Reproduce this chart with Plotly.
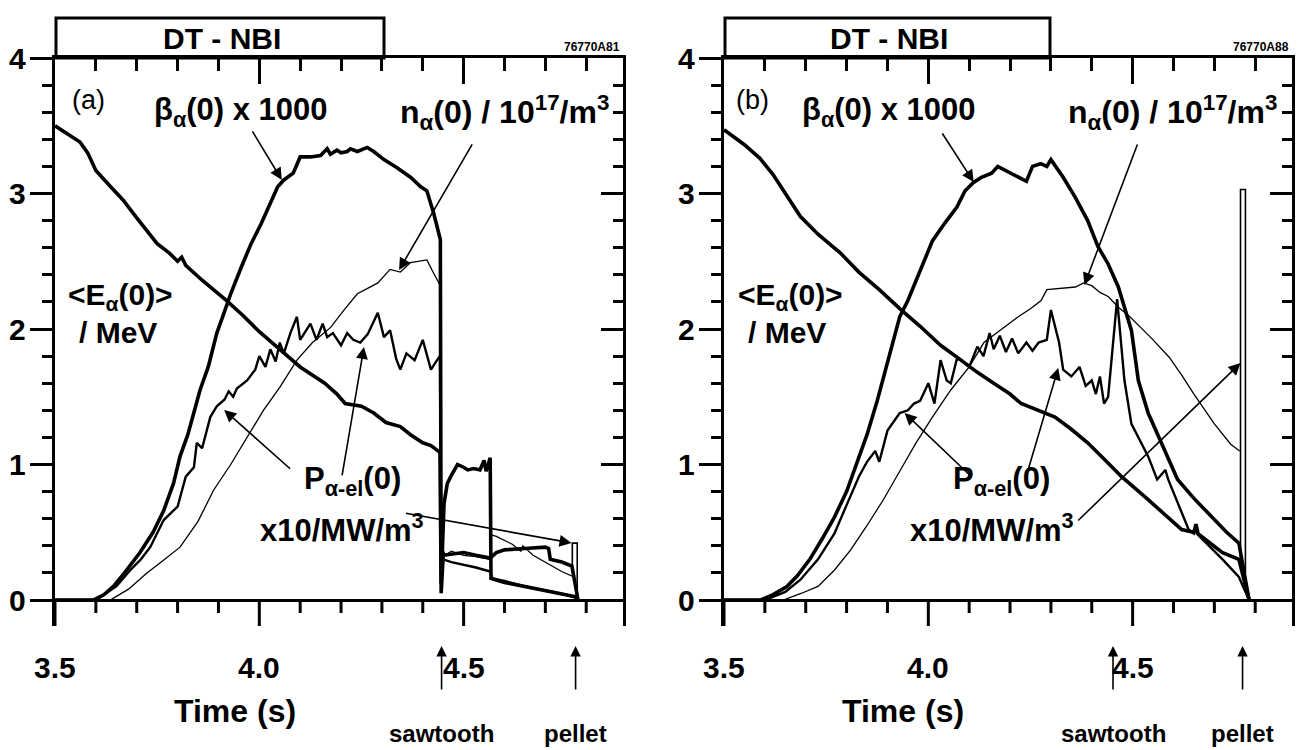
import plotly.graph_objects as go

# ---------------- data (time in s, values in plotted units) ----------------
# Panel (a)
t_beta_a = [3.50, 3.55, 3.594, 3.62, 3.643, 3.67, 3.708, 3.74, 3.766, 3.79, 3.806, 3.825, 3.84, 3.855,
            3.875, 3.896, 3.915, 3.93, 3.955, 3.98, 4.005, 4.027, 4.045, 4.06, 4.083, 4.10, 4.125, 4.15,
            4.166, 4.174, 4.19, 4.20, 4.215, 4.223, 4.24, 4.264, 4.28, 4.305, 4.337, 4.37, 4.395, 4.41,
            4.427, 4.443, 4.445, 4.45, 4.47, 4.50, 4.53, 4.565, 4.58, 4.60, 4.65, 4.70, 4.708, 4.712,
            4.74, 4.765, 4.78]
v_beta_a = [0.0, 0.0, 0.0, 0.04, 0.10, 0.20, 0.35, 0.50, 0.66, 0.86, 1.06, 1.22, 1.38, 1.55,
            1.72, 1.97, 2.13, 2.26, 2.45, 2.63, 2.78, 2.93, 3.05, 3.10, 3.15, 3.27, 3.27, 3.28,
            3.33, 3.29, 3.32, 3.30, 3.31, 3.33, 3.31, 3.34, 3.31, 3.25, 3.19, 3.12, 3.05, 3.02,
            2.85, 2.66, 0.05, 0.33, 0.34, 0.35, 0.33, 0.31, 0.35, 0.37, 0.38, 0.39, 0.38, 0.30,
            0.28, 0.25, 0.0]

t_e_a = [3.50, 3.53, 3.561, 3.58, 3.60, 3.63, 3.667, 3.70, 3.75, 3.78, 3.80, 3.81, 3.82, 3.86, 3.92,
         3.96, 4.00, 4.05, 4.10, 4.16, 4.19, 4.21, 4.23, 4.25, 4.28, 4.31, 4.345, 4.37, 4.40, 4.42,
         4.442, 4.445, 4.452, 4.46, 4.47, 4.485, 4.50, 4.51, 4.525, 4.54, 4.55, 4.555, 4.565, 4.567,
         4.60, 4.65, 4.70, 4.75, 4.78]
v_e_a = [3.50, 3.44, 3.38, 3.30, 3.17, 3.07, 2.95, 2.82, 2.63, 2.56, 2.50, 2.53, 2.47, 2.36, 2.21,
         2.10, 1.98, 1.85, 1.72, 1.60, 1.52, 1.45, 1.44, 1.43, 1.38, 1.31, 1.28, 1.22, 1.16, 1.14,
         1.09, 0.12, 0.71, 0.86, 0.92, 1.00, 0.98, 0.96, 0.97, 0.96, 1.03, 0.95, 1.05, 0.16,
         0.13, 0.10, 0.07, 0.04, 0.02]

t_n_a = [3.50, 3.635, 3.68, 3.725, 3.76, 3.806, 3.85, 3.888, 3.93, 3.97, 4.01, 4.05, 4.092, 4.13,
         4.174, 4.21, 4.24, 4.265, 4.29, 4.32, 4.345, 4.37, 4.39, 4.41, 4.427, 4.443, 4.445, 4.45,
         4.455, 4.47, 4.50, 4.53, 4.565, 4.568, 4.58, 4.60, 4.62, 4.64, 4.645, 4.67, 4.70, 4.74,
         4.77, 4.78]
v_n_a = [0.0, 0.0, 0.08, 0.20, 0.28, 0.39, 0.58, 0.81, 1.00, 1.20, 1.40, 1.57, 1.77, 1.90,
         2.01, 2.15, 2.26, 2.30, 2.34, 2.44, 2.42, 2.49, 2.50, 2.51, 2.41, 2.32, 0.30, 0.37,
         0.33, 0.36, 0.33, 0.32, 0.30, 0.48, 0.47, 0.44, 0.41, 0.36, 0.40, 0.33, 0.28, 0.21,
         0.17, 0.0]

t_p_a = [3.50, 3.60, 3.65, 3.684, 3.71, 3.733, 3.766, 3.80, 3.82, 3.84, 3.847, 3.86, 3.88, 3.896,
         3.915, 3.925, 3.936, 3.945, 3.97, 3.99, 4.00, 4.015, 4.027, 4.04, 4.05, 4.06, 4.076, 4.092,
         4.10, 4.125, 4.14, 4.155, 4.166, 4.18, 4.20, 4.215, 4.23, 4.247, 4.265, 4.29, 4.305, 4.32,
         4.335, 4.345, 4.36, 4.38, 4.40, 4.42, 4.435, 4.442, 4.445, 4.45, 4.47, 4.50, 4.53, 4.565,
         4.57, 4.60, 4.65, 4.70, 4.75, 4.78]
v_p_a = [0.0, 0.0, 0.10, 0.22, 0.30, 0.39, 0.59, 0.69, 0.91, 0.98, 1.16, 1.12, 1.35, 1.43,
         1.48, 1.54, 1.50, 1.56, 1.62, 1.70, 1.80, 1.72, 1.85, 1.76, 1.90, 1.82, 1.97, 2.09,
         1.92, 2.04, 1.92, 2.04, 1.94, 1.97, 1.88, 1.97, 1.92, 1.90, 1.96, 2.12, 1.94, 1.99,
         1.78, 1.70, 1.82, 1.77, 1.92, 1.70, 1.77, 1.80, 0.10, 0.30, 0.28, 0.26, 0.24, 0.21,
         0.16, 0.14, 0.10, 0.07, 0.04, 0.01]

t_spike_a = [4.766, 4.766, 4.778, 4.778]
v_spike_a = [0.25, 0.42, 0.42, 0.0]

# Panel (b)
t_beta_b = [3.50, 3.59, 3.62, 3.654, 3.68, 3.71, 3.74, 3.77, 3.80, 3.826, 3.85, 3.875, 3.90, 3.93,
            3.95, 3.98, 4.01, 4.04, 4.07, 4.09, 4.11, 4.13, 4.155, 4.17, 4.19, 4.21, 4.24, 4.255,
            4.275, 4.29, 4.30, 4.33, 4.36, 4.39, 4.415, 4.44, 4.465, 4.497, 4.514, 4.538, 4.571,
            4.61, 4.65, 4.686, 4.73, 4.76, 4.785]
v_beta_b = [0.0, 0.0, 0.04, 0.10, 0.18, 0.30, 0.45, 0.61, 0.80, 1.01, 1.22, 1.47, 1.75, 2.09,
            2.21, 2.43, 2.65, 2.78, 2.90, 3.02, 3.08, 3.12, 3.15, 3.20, 3.17, 3.14, 3.09, 3.20,
            3.22, 3.20, 3.25, 3.12, 2.97, 2.80, 2.61, 2.48, 2.31, 1.99, 1.62, 1.38, 1.16,
            0.89, 0.75, 0.64, 0.50, 0.42, 0.0]

t_e_b = [3.50, 3.55, 3.588, 3.62, 3.687, 3.73, 3.785, 3.83, 3.88, 3.93, 3.98, 4.03, 4.08, 4.12,
         4.16, 4.20, 4.227, 4.27, 4.31, 4.35, 4.39, 4.43, 4.473, 4.538, 4.58, 4.62, 4.65, 4.655,
         4.66, 4.72, 4.76, 4.785]
v_e_b = [3.47, 3.36, 3.26, 3.14, 2.83, 2.70, 2.56, 2.42, 2.29, 2.15, 2.02, 1.88, 1.77, 1.68,
         1.60, 1.52, 1.45, 1.40, 1.35, 1.26, 1.16, 1.04, 0.91, 0.74, 0.63, 0.52, 0.50, 0.56,
         0.49, 0.35, 0.30, 0.0]

t_n_b = [3.50, 3.645, 3.69, 3.73, 3.77, 3.81, 3.85, 3.89, 3.93, 3.97, 4.01, 4.055, 4.10, 4.136,
         4.18, 4.22, 4.25, 4.276, 4.29, 4.32, 4.36, 4.38, 4.40, 4.42, 4.44, 4.465, 4.49, 4.52,
         4.55, 4.59, 4.62, 4.65, 4.70, 4.74, 4.762]
v_n_b = [0.0, 0.0, 0.05, 0.10, 0.22, 0.37, 0.55, 0.74, 0.95, 1.16, 1.35, 1.55, 1.72, 1.90,
         2.00, 2.09, 2.15, 2.21, 2.29, 2.30, 2.31, 2.34, 2.32, 2.27, 2.24, 2.16, 2.10, 2.01,
         1.92, 1.79, 1.66, 1.52, 1.30, 1.15, 1.10]

t_p_b = [3.50, 3.60, 3.65, 3.687, 3.73, 3.77, 3.80, 3.83, 3.85, 3.87, 3.88, 3.90, 3.93, 3.95,
         3.965, 3.98, 4.00, 4.015, 4.03, 4.045, 4.055, 4.07, 4.08, 4.10, 4.12, 4.135, 4.15, 4.16,
         4.175, 4.19, 4.205, 4.22, 4.24, 4.255, 4.27, 4.29, 4.30, 4.32, 4.33, 4.35, 4.37, 4.385,
         4.40, 4.41, 4.42, 4.43, 4.44, 4.462, 4.48, 4.497, 4.538, 4.56, 4.58, 4.587, 4.637,
         4.65, 4.655, 4.66, 4.72, 4.76, 4.785]
v_p_b = [0.0, 0.0, 0.06, 0.15, 0.30, 0.49, 0.70, 0.91, 1.02, 1.10, 1.02, 1.25, 1.38, 1.40,
         1.45, 1.47, 1.60, 1.45, 1.77, 1.62, 1.60, 1.78, 1.77, 1.72, 1.87, 1.80, 1.97, 1.85,
         1.95, 1.83, 1.93, 1.82, 1.90, 1.84, 1.90, 1.92, 2.14, 1.90, 1.70, 1.65, 1.72, 1.58,
         1.62, 1.52, 1.65, 1.45, 1.50, 2.22, 1.62, 1.30, 1.06, 0.89, 0.96, 0.89, 0.52,
         0.49, 0.53, 0.48, 0.30, 0.17, 0.0]

t_spike_b = [4.764, 4.764, 4.776, 4.776]
v_spike_b = [0.30, 3.03, 3.03, 0.20]

x_ticks = [3.5, 4.0, 4.5]
x_ticklabels = ["3.5", "4.0", "4.5"]
y_ticks = [0, 1, 2, 3, 4]
y_ticklabels = ["0", "1", "2", "3", "4"]
x_range = [3.5, 4.89]
y_top = 4
x_minor_step, y_minor_step = 0.1, 0.2

# ---------------- layout geometry (screen pixels; page body adds an 8 px offset) ----------------
OFF = 8
SW, SH = 1308, 750
W, H = SW - OFF, SH - OFF
A_L, A_R = 55, 623          # screen x of panel (a) frame
B_L, B_R = 724, 1292        # screen x of panel (b) frame
TOP, BOT = 58, 600          # screen y of frame top / time axis (value 0)
TICK_MAJ, TICK_MIN = 26, 13  # px length of the outside ticks under the time axis
UNIT_PX = (BOT - TOP) / y_top
y_range = [-TICK_MAJ / UNIT_PX, y_top]   # plot area extends down to hold the hanging ticks
PBOT = BOT + TICK_MAJ
ML, MT = A_L - OFF, TOP - OFF
MR = W - (B_R - OFF)
MB = H - (PBOT - OFF)
PW = W - ML - MR
PH = H - MT - MB
dom_a = [(A_L - A_L) / PW, (A_R - A_L) / PW]
dom_b = [(B_L - A_L) / PW, (B_R - A_L) / PW]


def px(xs):
    return (xs - A_L) / PW


def py(ys):
    return (PBOT - ys) / PH


FONT = "Liberation Sans"
AXW = 3

fig = go.Figure()

THICK, MED, THIN = 3.6, 2.4, 1.3


def add(t, v, w, xa, ya):
    fig.add_trace(go.Scatter(x=t, y=v, mode="lines", line=dict(color="black", width=w),
                             xaxis=xa, yaxis=ya, showlegend=False, hoverinfo="skip"))


# hanging tick marks under the time axis (value 0), from the tick arrays
x_minor = [round(x_range[0] + k * x_minor_step, 3)
           for k in range(1, int((x_range[1] - x_range[0]) / x_minor_step) + 1)]
x_minor = [v for v in x_minor if v not in x_ticks]


def tick_trace(vals, length_px, xa, ya):
    xs, ys = [], []
    for v in vals:
        xs += [v, v, None]
        ys += [0, -length_px / UNIT_PX, None]
    fig.add_trace(go.Scatter(x=xs, y=ys, mode="lines", line=dict(color="black", width=AXW),
                             xaxis=xa, yaxis=ya, showlegend=False, hoverinfo="skip"))


for xa, ya, series in [
    ("x", "y", [(t_beta_a, v_beta_a, THICK), (t_e_a, v_e_a, THICK), (t_n_a, v_n_a, THIN),
                (t_p_a, v_p_a, MED), (t_spike_a, v_spike_a, 1.6)]),
    ("x2", "y2", [(t_beta_b, v_beta_b, THICK), (t_e_b, v_e_b, THICK), (t_n_b, v_n_b, THIN),
                  (t_p_b, v_p_b, MED), (t_spike_b, v_spike_b, 1.6)]),
]:
    tick_trace(x_ticks, TICK_MAJ, xa, ya)
    tick_trace(x_minor, TICK_MIN, xa, ya)
    for t, v, w in series:
        add(t, v, w, xa, ya)

# dummy traces to activate the tick-only overlay axes
for xa, ya in [("x3", "y"), ("x", "y3"), ("x4", "y2"), ("x2", "y4"),
               ("x", "y5"), ("x2", "y6")]:
    fig.add_trace(go.Scatter(x=[None], y=[None], xaxis=xa, yaxis=ya, showlegend=False,
                             hoverinfo="skip"))


def xmain(domain, anchor):
    return dict(domain=domain, anchor=anchor, range=x_range, ticks="", showticklabels=False,
                side="top", showline=True, linewidth=AXW, linecolor="black", mirror=False,
                showgrid=False, zeroline=False)


def ymain(anchor):
    return dict(domain=[0, 1], anchor=anchor, range=y_range, ticks="", showticklabels=False,
                showline=True, linewidth=AXW, linecolor="black", mirror=True,
                showgrid=False, zeroline=True, zerolinecolor="black", zerolinewidth=AXW)


def xticks_axis(over, anchor, domain, side, inout, major, minor):
    return dict(overlaying=over, anchor=anchor, side=side, domain=domain, range=x_range,
                tickmode="array", tickvals=x_ticks, ticks=inout, ticklen=major,
                tickwidth=AXW, tickcolor="black", showticklabels=False, showline=False,
                showgrid=False, zeroline=False,
                minor=dict(ticks=inout, ticklen=minor, tickwidth=AXW, tickcolor="black",
                           dtick=x_minor_step, tick0=x_range[0], showgrid=False))


def yticks_axis(over, anchor, side, inout, major, minor):
    return dict(overlaying=over, anchor=anchor, side=side, range=y_range,
                tickmode="array", tickvals=y_ticks, ticks=inout, ticklen=major,
                tickwidth=AXW, tickcolor="black", showticklabels=False, showline=False,
                showgrid=False, zeroline=False,
                minor=dict(ticks=inout, ticklen=minor, tickwidth=AXW, tickcolor="black",
                           dtick=y_minor_step, tick0=0, showgrid=False))


fig.update_layout(
    width=W, height=H,
    margin=dict(l=ML, r=MR, t=MT, b=MB, autoexpand=False),
    paper_bgcolor="white", plot_bgcolor="white",
    font=dict(family=FONT, color="black"),
    xaxis=xmain(dom_a, "y"), yaxis=ymain("x"),
    xaxis2=xmain(dom_b, "y2"), yaxis2=ymain("x2"),
    # top (inside) and right (inside) ticks
    xaxis3=xticks_axis("x", "y", dom_a, "top", "inside", 26, 13),
    yaxis3=yticks_axis("y", "x", "right", "inside", 22, 10),
    xaxis4=xticks_axis("x2", "y2", dom_b, "top", "inside", 26, 13),
    yaxis4=yticks_axis("y2", "x2", "right", "inside", 22, 10),
    # left (outside) ticks
    yaxis5=yticks_axis("y", "x", "left", "outside", 24, 12),
    yaxis6=yticks_axis("y2", "x2", "left", "outside", 24, 12),
)

ann = []
LBLSIZE = 31


def txt(x, y, text, xref, yref, size=LBLSIZE, weight="bold", xanchor="center", yanchor="middle"):
    ann.append(dict(x=x, y=y, xref=xref, yref=yref, text=text, showarrow=False,
                    xanchor=xanchor, yanchor=yanchor,
                    font=dict(family=FONT, size=size, color="black", weight=weight)))


def arrow(tail, tip, xref, yref, width=1.6):
    ann.append(dict(x=tip[0], y=tip[1], ax=tail[0], ay=tail[1], xref=xref, yref=yref,
                    axref=xref, ayref=yref, text="", showarrow=True, arrowhead=2,
                    arrowsize=1.5, arrowwidth=width, arrowcolor="black"))


beta_lbl = "β<sub>α</sub><b>(0) x 1000</b>"
n_lbl = "<b>n<sub>α</sub>(0) / 10<sup>17</sup>/m<sup>3</sup></b>"
e_lbl1 = "<b>&lt;E<sub>α</sub>(0)&gt;</b>"
e_lbl2 = "<b>/ MeV</b>"
p_lbl1 = "<b>P<sub>α-el</sub>(0)</b>"
p_lbl2 = "<b>x10/MW/m<sup>3</sup></b>"

panels = [
    dict(xr="x", yr="y", tag="(a)", tagpos=(3.581, 3.69), beta=(3.956, 3.60), n=(4.860, 3.60),
         e1=(3.660, 2.24), e2=(3.655, 1.975), p1=(4.227, 0.878), p2=(4.203, 0.535),
         arrows=[((3.981, 3.469), (4.055, 3.100)), ((4.523, 3.373), (4.342, 2.435)),
                 ((4.079, 0.959), (3.914, 1.402)), ((4.202, 0.908), (4.256, 1.867)),
                 ((4.355, 0.642), (4.764, 0.421))],
         saw=4.446, pel=4.774, code="76770A81", left=A_L, right=A_R, boxr=384, title=235),
    dict(xr="x2", yr="y2", tag="(b)", tagpos=(3.569, 3.69), beta=(3.904, 3.60), n=(4.858, 3.60),
         e1=(3.663, 2.24), e2=(3.653, 1.975), p1=(4.180, 0.878), p2=(4.156, 0.535),
         arrows=[((4.032, 3.454), (4.111, 3.085)), ((4.513, 3.373), (4.382, 2.325)),
                 ((4.106, 0.908), (3.942, 1.380)), ((4.242, 0.937), (4.318, 1.712)),
                 ((4.363, 0.576), (4.764, 1.749))],
         saw=4.452, pel=4.769, code="76770A88", left=B_L, right=B_R, boxr=1050, title=903),
]

shapes = []
for p in panels:
    xr, yr = p["xr"], p["yr"]
    # tick labels, placed through the panel's own axes
    for tv, tl in zip(x_ticks, x_ticklabels):
        txt(tv, py(667), f"<b>{tl}</b>", xr, "paper", size=30)
    for tv, tl in zip(y_ticks, y_ticklabels):
        txt(px(p["left"] - 27), tv, f"<b>{tl}</b>", "paper", yr, size=30, xanchor="right")
    txt(*p["tagpos"], p["tag"], xr, yr, size=27, weight="normal")
    txt(*p["beta"], beta_lbl, xr, yr)
    txt(*p["n"], n_lbl, xr, yr, size=32, xanchor="right")
    txt(*p["e1"], e_lbl1, xr, yr, size=30)
    txt(*p["e2"], e_lbl2, xr, yr, size=30)
    txt(*p["p1"], p_lbl1, xr, yr)
    txt(*p["p2"], p_lbl2, xr, yr)
    for tail, tip in p["arrows"]:
        arrow(tail, tip, xr, yr)
    # axis title
    txt(px(p["title"]), py(711), "<b>Time (s)</b>", "paper", "paper", size=32)
    # sawtooth / pellet markers below the axis
    for xv, label in [(p["saw"], "sawtooth"), (p["pel"], "pellet")]:
        ann.append(dict(x=xv, y=py(646), xref=xr, yref="paper", ax=0, ay=45, text="",
                        showarrow=True, arrowhead=2, arrowsize=1.3, arrowwidth=1.6,
                        arrowcolor="black"))
        txt(xv, py(733), f"<b>{label}</b>", xr, "paper", size=24)
    # DT-NBI box
    shapes.append(dict(type="rect", xref="paper", yref="paper", x0=px(p["left"] + 1),
                       x1=px(p["boxr"]), y0=py(TOP), y1=py(18),
                       line=dict(color="black", width=AXW), fillcolor="rgba(0,0,0,0)"))
    txt(px((p["left"] + p["boxr"]) / 2 + 2), py(38), "<b>DT - NBI</b>", "paper", "paper", size=30)
    txt(px(p["right"] - 1), py(TOP - 2), f"<b>{p['code']}</b>", "paper", "paper", size=12,
        xanchor="right", yanchor="bottom")

fig.update_layout(annotations=ann, shapes=shapes)
fig.write_html("out.html")
